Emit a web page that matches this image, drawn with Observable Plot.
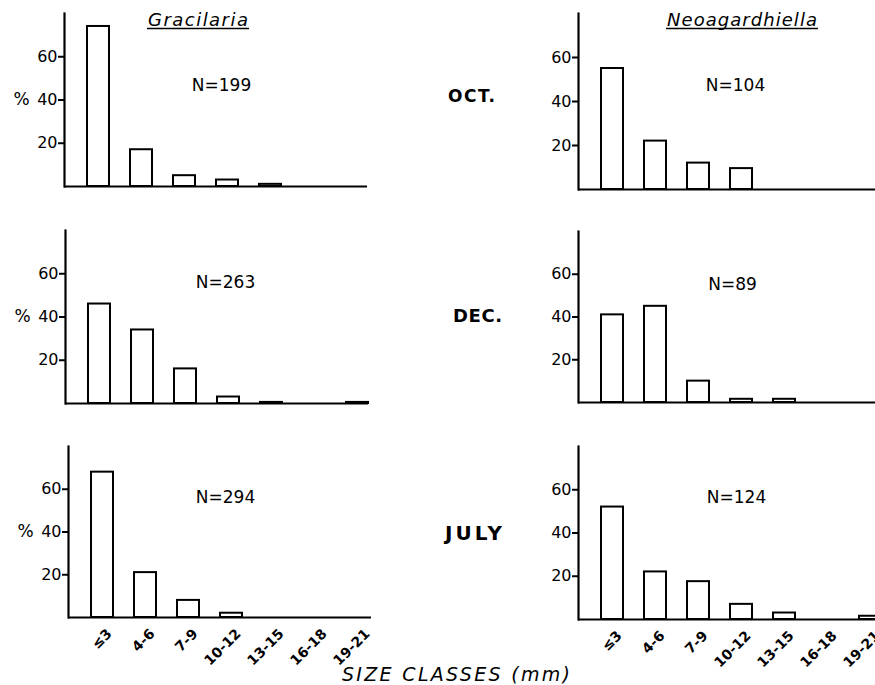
<!DOCTYPE html>
<html>
<head>
<meta charset="utf-8">
<script src="https://cdn.jsdelivr.net/npm/d3@7"></script>
<script src="https://cdn.jsdelivr.net/npm/@observablehq/plot@0.6"></script>
<style>
  html, body { margin: 0; padding: 0; background: #fff; overflow: hidden; }
  #wrap { position: relative; width: 875px; height: 685px; overflow: hidden; background: #fff; }
  #wrap svg { position: absolute; overflow: visible; }
</style>
</head>
<body>
<div id="wrap"></div>
<script>
// ---- data ----
const sizeClasses = ["≤3", "4-6", "7-9", "10-12", "13-15", "16-18", "19-21"];
const species = ["Gracilaria", "Neoagardhiella"];
const months = ["OCT.", "DEC.", "JULY"];
const gracilariaOct = [74, 17, 5, 3, 1, 0, 0];
const gracilariaDec = [46, 34, 16, 3, 0.5, 0, 0.5];
const gracilariaJuly = [68, 21, 8, 2, 0, 0, 0];
const neoagardhiellaOct = [55, 22, 12, 9.5, 0, 0, 0];
const neoagardhiellaDec = [41, 45, 10, 1.5, 1.5, 0, 0];
const neoagardhiellaJuly = [52, 22, 17.5, 7, 3, 0, 1.5];
const gracilariaN = [199, 263, 294];
const neoagardhiellaN = [104, 89, 124];
const yTicks = [20, 40, 60];

// ---- layout (positions only) ----
const panels = [
  {values: gracilariaOct, n: gracilariaN[0], ax: 64, top: 13, base: 186, nx: 157, ny: 72, pct: true, xl: false},
  {values: neoagardhiellaOct, n: neoagardhiellaN[0], ax: 578, top: 13, base: 189, nx: 157, ny: 72, pct: false, xl: false},
  {values: gracilariaDec, n: gracilariaN[1], ax: 65, top: 230, base: 403, nx: 160, ny: 52, pct: true, xl: false},
  {values: neoagardhiellaDec, n: neoagardhiellaN[1], ax: 578, top: 231, base: 402, nx: 154, ny: 53, pct: false, xl: false},
  {values: gracilariaJuly, n: gracilariaN[2], ax: 68, top: 446, base: 617, nx: 157, ny: 51, pct: true, xl: true},
  {values: neoagardhiellaJuly, n: neoagardhiellaN[2], ax: 578, top: 446, base: 619, nx: 158, ny: 51, pct: false, xl: true}
];

const wrap = document.getElementById("wrap");
const FONT = "'DejaVu Sans', sans-serif";
const ML = 45, MT = 10, MR = 10, IW = 303, OFF = 22;

for (const p of panels) {
  const MB = p.xl ? 55 : 10;
  const H = MT + (p.base - p.top) + MB;
  const rows = sizeClasses.map((c, i) => ({cls: c, v: p.values[i]}));
  const marks = [
    Plot.axisY(yTicks, {tickSize: 6, tickPadding: 1, strokeWidth: 2, fontSize: 16, label: null}),
    Plot.barY(rows, {x: "cls", y: "v", fill: "white", stroke: "black", strokeWidth: 2}),
    Plot.frame({anchor: "left", strokeWidth: 2.2}),
    Plot.ruleY([0], {strokeWidth: 2}),
    Plot.text([`N=${p.n}`], {frameAnchor: "top-left", dx: p.nx, dy: p.ny, textAnchor: "middle", lineAnchor: "middle", fontSize: 17})
  ];
  if (p.pct) marks.push(Plot.text([{t: "%", y: 40}], {y: "y", text: "t", frameAnchor: "left", dx: -43, textAnchor: "middle", fontSize: 17}));
  if (p.xl) marks.push(Plot.text(sizeClasses, {x: d => d, y: () => 0, dx: 7, dy: 14, rotate: -45, textAnchor: "end", lineAnchor: "middle", fontSize: 14, fontWeight: "bold"}));
  const chart = Plot.plot({
    width: ML + IW + MR, height: H,
    marginLeft: ML, marginRight: MR, marginTop: MT, marginBottom: MB,
    style: {fontFamily: FONT, color: "black", background: "transparent", overflow: "visible"},
    x: {type: "band", domain: sizeClasses, range: [ML + OFF, ML + IW], paddingInner: 0.5, paddingOuter: 0, axis: null},
    y: {domain: [0, 80]},
    marks
  });
  chart.style.left = (p.ax - ML) + "px";
  chart.style.top = (p.top - MT) + "px";
  wrap.appendChild(chart);
}

// ---- annotations ----
const svg = d3.select(wrap).append("svg")
  .attr("width", 875).attr("height", 685)
  .style("left", "0px").style("top", "0px")
  .attr("font-family", FONT);

const titles = [
  {t: species[0], x: 148, w: 100},
  {t: species[1], x: 667, w: 150}
];
for (const t of titles) {
  svg.append("text").attr("x", t.x).attr("y", 26).attr("font-size", 18).attr("font-style", "italic")
    .attr("textLength", t.w).attr("lengthAdjust", "spacing").text(t.t);
  svg.append("line").attr("x1", t.x - 1).attr("x2", t.x + t.w + 1).attr("y1", 28.5).attr("y2", 28.5)
    .attr("stroke", "black").attr("stroke-width", 1.5);
}
const monthPos = [{x: 448, y: 102, w: 47, s: 17}, {x: 453, y: 322, w: 49, s: 18}, {x: 445, y: 540, w: 57, s: 20}];
months.forEach((m, i) => {
  svg.append("text").attr("x", monthPos[i].x).attr("y", monthPos[i].y).attr("font-size", monthPos[i].s)
    .attr("font-weight", "bold").attr("textLength", monthPos[i].w).attr("lengthAdjust", "spacing").text(m);
});
svg.append("text").attr("x", 342).attr("y", 681).attr("font-size", 19).attr("font-style", "italic")
  .attr("textLength", 228).attr("lengthAdjust", "spacing").text("SIZE CLASSES  (mm)");
</script>
</body>
</html>
